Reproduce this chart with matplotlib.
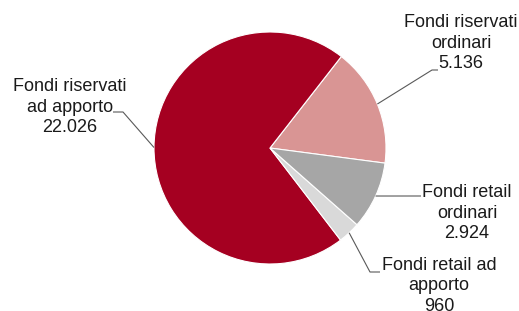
import numpy as np
import matplotlib.pyplot as plt

plt.rcParams['font.family'] = ['Liberation Sans', 'DejaVu Sans']

# slices in counter-clockwise order, starting just below 3 o'clock
labels = ["Fondi riservati\nordinari", "Fondi riservati\nad apporto",
          "Fondi retail ad\napporto", "Fondi retail\nordinari"]
values = [5136, 22026, 960, 2924]
value_text = ["5.136", "22.026", "960", "2.924"]
colors = ["#D99594", "#A50021", "#D9D9D9", "#A6A6A6"]

W, H = 519, 311
fig = plt.figure(figsize=(W / 100, H / 100), dpi=100)
ax = fig.add_axes([0, 0, 1, 1])

cx, cy, r = 270, H - 148, 116
wedges, _ = ax.pie(values, colors=colors, startangle=-7.5, counterclock=True,
                   center=(cx, cy), radius=r, frame=True,
                   wedgeprops=dict(edgecolor='white', linewidth=0.8))
ax.set_xlim(0, W)
ax.set_ylim(0, H)
ax.set_aspect('equal')
ax.axis('off')

# label centre positions and leader elbows (pixels from top-left)
label_pos = [(461, 43), (70, 107), (439, 286), (467, 213)]
elbows = [((432, 70), (438, 70)), ((123, 112), (113, 112)),
          ((370, 272), (380, 272)), ((420, 196), (421, 196))]

for w, lab, val, pos, elb in zip(wedges, labels, value_text, label_pos, elbows):
    mid = np.deg2rad((w.theta1 + w.theta2) / 2)
    px, py = cx + r * np.cos(mid), cy + r * np.sin(mid)
    xs = [px] + [e[0] for e in elb]
    ys = [py] + [H - e[1] for e in elb]
    ax.plot(xs, ys, color='#595959', lw=0.8, solid_capstyle='butt')
    ax.text(pos[0], H - pos[1], lab + "\n" + val, ha='center', va='center',
            fontsize=13, color='#1a1a1a', linespacing=1.25)

fig.savefig("out.png", dpi=100)
